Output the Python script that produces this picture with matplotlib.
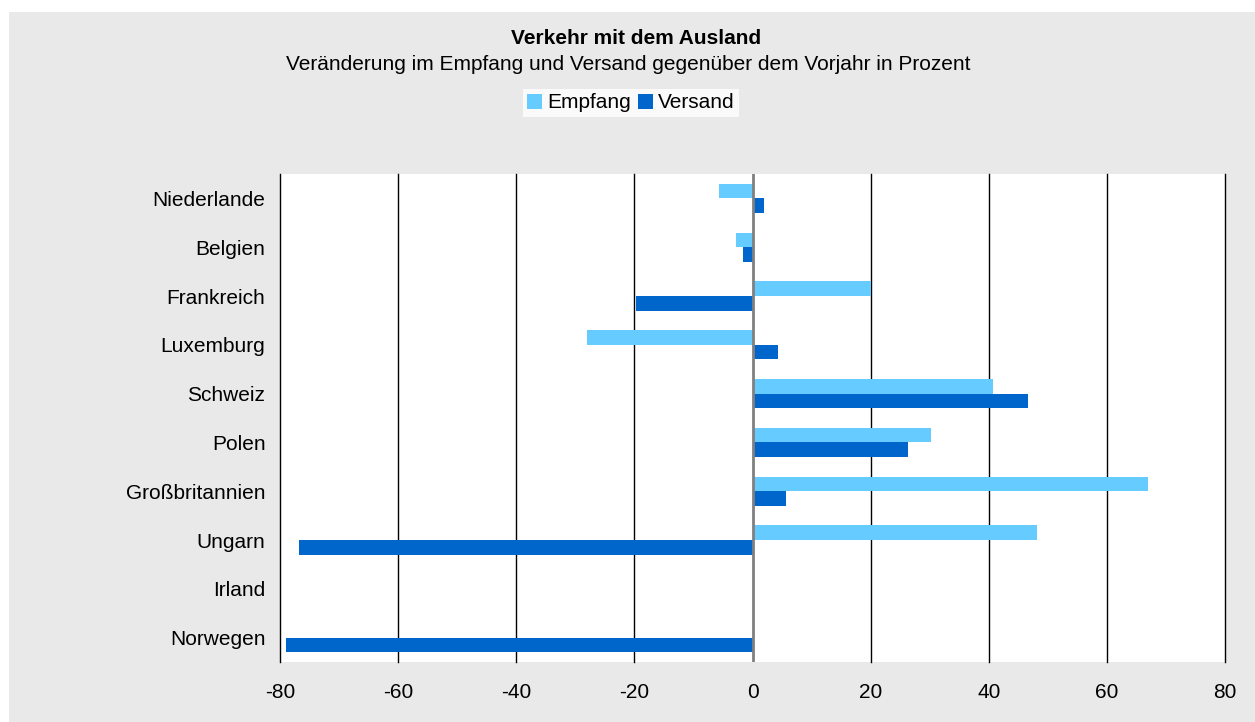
import matplotlib.pyplot as plt
import numpy as np
from matplotlib.patches import Rectangle

plt.rcParams['font.family'] = ['Liberation Sans', 'DejaVu Sans']

laender = ['Niederlande', 'Belgien', 'Frankreich', 'Luxemburg', 'Schweiz',
           'Polen', 'Großbritannien', 'Ungarn', 'Irland', 'Norwegen']
empfang = [-5.7, -2.8, 20.1, -28.1, 40.8, 30.3, 66.9, 48.1, 0.0, 0.0]
versand = [1.9, -1.6, -19.7, 4.3, 46.7, 26.4, 5.6, -76.7, 0.0, -78.9]
xticks = [-80, -60, -40, -20, 0, 20, 40, 60, 80]

fs = 15

fig = plt.figure(figsize=(12.55, 7.22), dpi=100, facecolor='white')
# grey panel behind the chart
fig.patches.append(Rectangle((9/1255, 0), 1 - 9/1255, 1 - 12/722,
                             transform=fig.transFigure, facecolor='#e9e9e9',
                             edgecolor='none', zorder=-10))

ax = fig.add_axes([280/1255, 60/722, 945/1255, 488/722])
ax.set_facecolor('white')

y = np.arange(len(laender))
h = 0.3
b1 = ax.barh(y - h/2, empfang, height=h, color='#66ccff', label='Empfang', zorder=2)
b2 = ax.barh(y + h/2, versand, height=h, color='#0066cc', label='Versand', zorder=2)

ax.set_xlim(-80, 80)
ax.set_ylim(len(laender) - 0.5, -0.5)
ax.set_xticks(xticks)
ax.set_xticklabels([str(t) for t in xticks])
ax.set_yticks(y)
ax.set_yticklabels(laender)
ax.tick_params(axis='both', length=0, labelsize=fs)
ax.tick_params(axis='x', pad=15)
ax.tick_params(axis='y', pad=10.5)

for t in xticks:
    if t == 0:
        ax.axvline(0, color='#808080', lw=2, zorder=3)
    else:
        ax.axvline(t, color='black', lw=1, zorder=1, clip_on=False)
for s in ax.spines.values():
    s.set_visible(False)

fig.text(636/1255, 1 - 39/722, 'Verkehr mit dem Ausland', ha='center', va='center',
         fontsize=fs, fontweight='bold')
fig.text(628/1255, 1 - 65/722, 'Veränderung im Empfang und Versand gegenüber dem Vorjahr in Prozent',
         ha='center', va='center', fontsize=fs)

leg = fig.legend(handles=[b1, b2], loc='center', bbox_to_anchor=(631/1255, 1 - 103/722),
                 ncol=2, frameon=True, fancybox=False, fontsize=fs,
                 handlelength=0.7, handleheight=0.7, handletextpad=0.25,
                 columnspacing=0.35, borderpad=0.2, borderaxespad=0)
leg.get_frame().set_facecolor('white')
leg.get_frame().set_edgecolor('white')
leg.get_frame().set_linewidth(0)

fig.savefig('out.png', dpi=100, facecolor=fig.get_facecolor())
